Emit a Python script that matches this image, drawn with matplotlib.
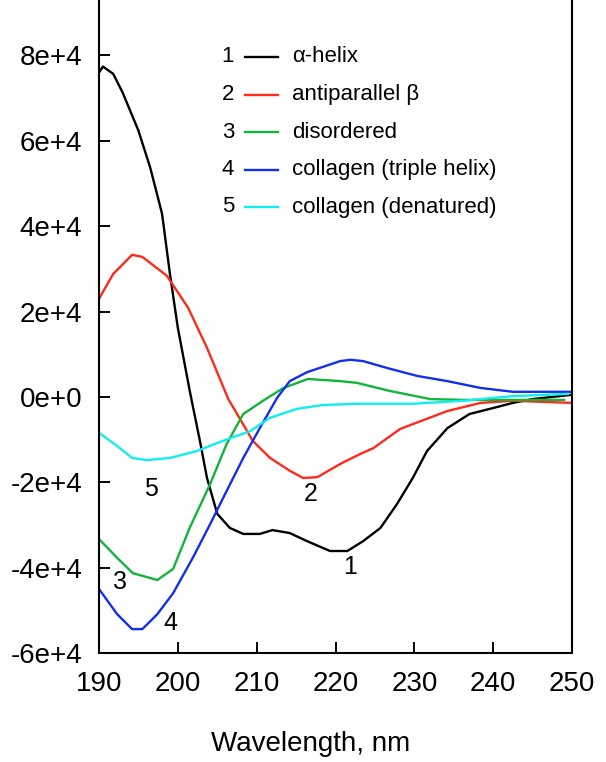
import matplotlib
matplotlib.use("Agg")
import matplotlib.pyplot as plt
from matplotlib.lines import Line2D

plt.rcParams['font.family'] = ['Liberation Sans', 'DejaVu Sans']

# CD spectra
wl_helix = [190, 190.5, 191.8, 193, 195, 196.5, 198, 199, 200, 201.5, 202.8, 203.7, 205, 206.6,
            208.3, 210.4, 212, 214.2, 216.4, 219.3, 221.5, 223.5, 225.7, 227.8, 229.8, 231.6,
            234.2, 237, 240, 242.5, 245, 250]
cd_helix = [76000, 77400, 75700, 71300, 62400, 53700, 42900, 28800, 16200, 1500, -10300, -19000,
            -27400, -30700, -32100, -32100, -31200, -31900, -33800, -36100, -36100, -33800, -30700,
            -25100, -19000, -12700, -7300, -4000, -2600, -1400, -500, 500]

wl_beta = [190, 191.8, 194.2, 195.5, 198.6, 201.3, 203.7, 206.4, 208, 209.5, 211.7, 214.2, 215.9,
           217.7, 220.6, 223.1, 224.8, 228.2, 234.2, 238.4, 242.5, 250]
cd_beta = [23000, 28800, 33300, 32800, 28400, 20900, 11500, -500, -5500, -10300, -14300, -17300,
           -19000, -18800, -15700, -13400, -12000, -7500, -3300, -1400, -900, -1400]

wl_dis = [190, 192.3, 194.3, 197.4, 199.4, 201.5, 204.1, 206.2, 208.3, 210.8, 213.4, 216.5, 220.6,
          222.7, 226.9, 232, 236.2, 242.5, 249]
cd_dis = [-33300, -37700, -41300, -42900, -40300, -30700, -20400, -11000, -4000, -900, 2100, 4200,
          3700, 3300, 1400, -500, -700, -700, -700]

wl_col = [190, 192.3, 194.2, 195.5, 197.4, 199.4, 201.9, 204.1, 206.2, 208.3, 210.4, 212.6, 214.2,
          216.4, 220.6, 221.9, 223.5, 226.5, 230.4, 234.2, 238.4, 242.5, 250]
cd_col = [-45000, -50900, -54400, -54400, -50900, -46000, -37700, -29800, -22000, -14300, -7300,
          -200, 3700, 5800, 8400, 8700, 8400, 6800, 4900, 3700, 2100, 1200, 1200]

wl_den = [190, 192.3, 194.2, 196.1, 199, 202.4, 205.7, 209.2, 211.7, 215.1, 218.4, 222.7, 229.8,
          236.2, 242.5, 249.5]
cd_den = [-8400, -11500, -14300, -14800, -14300, -12700, -10300, -8000, -4900, -2800, -1900, -1600,
          -1600, -900, 200, 700]

names = ['\u03b1-helix', 'antiparallel \u03b2', 'disordered', 'collagen (triple helix)',
         'collagen (denatured)']
colors = ['black', '#ff2a1a', '#12b53a', '#1030ee', '#12eef0']
# where the curve numbers sit (wavelength, value)
tag_x = [221.9, 216.9, 192.7, 199.0, 196.6]
tag_y = [-39800, -22700, -43400, -53000, -21600]

xticks = [190, 200, 210, 220, 230, 240, 250]
yticks = [-60000, -40000, -20000, 0, 20000, 40000, 60000, 80000]
ytick_labels = ['-6e+4', '-4e+4', '-2e+4', '0e+0', '2e+4', '4e+4', '6e+4', '8e+4']

fig = plt.figure(figsize=(6.06, 7.62), dpi=100)
ax = fig.add_axes([99/606, 1 - 653/762, (572-99)/606, 653/762])

series = [(wl_helix, cd_helix), (wl_beta, cd_beta), (wl_dis, cd_dis), (wl_col, cd_col), (wl_den, cd_den)]
for (x, y), c in zip(series, colors):
    ax.plot(x, y, color=c, lw=1.7)

for i in range(5):
    ax.text(tag_x[i], tag_y[i], str(i + 1), fontsize=18, ha='center', va='center')

ax.set_xlim(190, 250)
ax.set_ylim(-60000, 93000)
ax.set_xticks(xticks)
ax.set_xticklabels([str(t) for t in xticks], fontsize=20)
ax.set_yticks(yticks)
ax.set_yticklabels(ytick_labels, fontsize=20)
ax.tick_params(direction='in', length=8, width=1.4, right=False, top=False)
ax.tick_params(axis='y', pad=12)
ax.tick_params(axis='x', pad=13)
ax.spines['top'].set_visible(False)
for s in ['left', 'bottom', 'right']:
    ax.spines[s].set_linewidth(1.5)

fig.text(311/606, 1 - 744/762, 'Wavelength, nm', fontsize=20, ha='center', va='center')

# hand-made legend: number, short line, name
for i in range(5):
    yy = 1 - (57 + 37.5 * i) / 762
    fig.text(234/606, yy, str(i + 1), fontsize=16, ha='right', va='center')
    fig.add_artist(Line2D([245/606, 278/606], [yy, yy], color=colors[i], lw=1.7))
    fig.text(292/606, yy, names[i], fontsize=16, ha='left', va='center')

fig.savefig('out.png', dpi=100)
